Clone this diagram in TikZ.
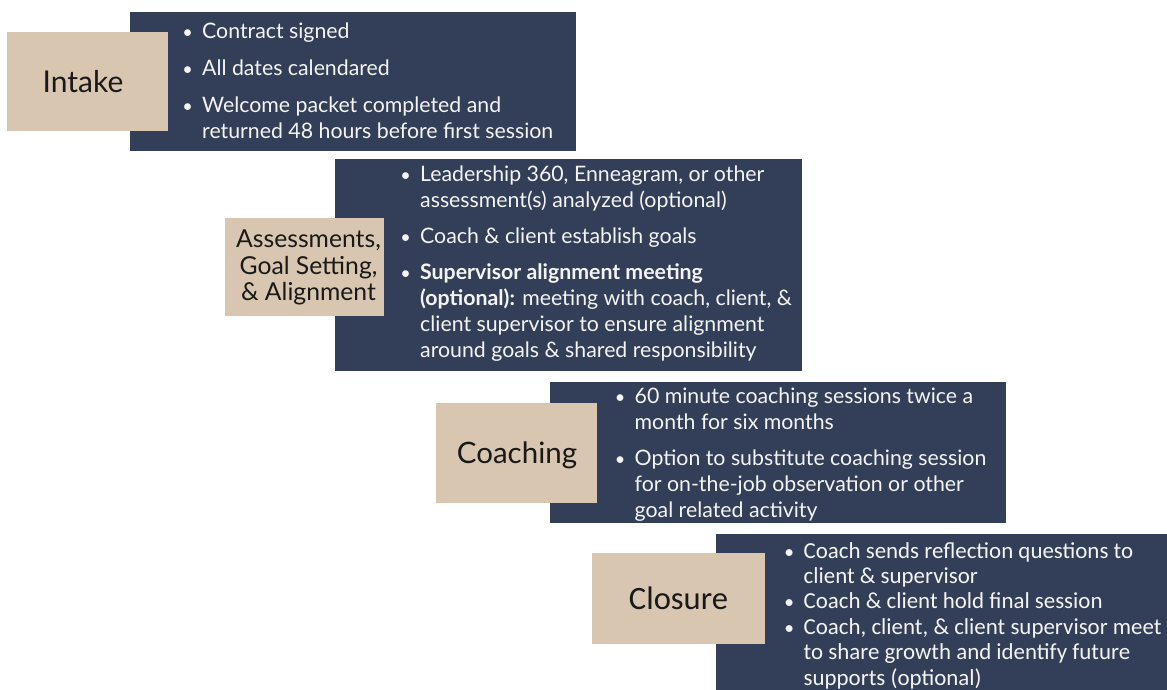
\documentclass[tikz,border=0pt]{standalone}
\usepackage{fontspec}
\setmainfont{Lato}
\newfontfamily\calibfont{Carlito}
\definecolor{navy}{HTML}{333F58}
\definecolor{sand}{HTML}{D8C6B1}
\definecolor{paper}{HTML}{F4F4F4}
\newcommand{\bul}{\makebox[22pt][l]{\makebox[15pt][c]{\scalebox{0.85}{\textbullet}}}}
\newcommand{\ind}{\hspace*{22pt}}

\begin{document}
\begin{tikzpicture}[x=1pt,y=-1pt,
    darkbox/.style={fill=navy,inner sep=0,anchor=north west},
    sandbox/.style={fill=sand,inner sep=0,anchor=north west},
    steplabel/.style={inner sep=0,anchor=base,align=center,font=\fontsize{30}{30}\selectfont,text=black!90},
    bullets/.style={inner sep=0,anchor=base west,align=left,text=paper,font=\fontsize{21.3}{26}\selectfont}]
    \useasboundingbox (0,0) rectangle (1167,690);
    % Intake
    \node[darkbox,minimum width=446pt,minimum height=139pt] (intakebg) at (130,12) {};
    \node[sandbox,minimum width=161pt,minimum height=99pt] (intakebox) at (7,32) {};
    \node[steplabel] (intake) at (83,92.7) {Intake};
    \node[bullets] (intakelist) at (180,139) {\bul Contract signed\\[11pt]
        \bul All dates calendared\\[11pt]
        \bul Welcome packet completed and\\
        \ind returned 48 hours before first session};
    % Assessments
    \node[darkbox,minimum width=467pt,minimum height=212pt] (assessbg) at (335,159) {};
    \node[sandbox,minimum width=159pt,minimum height=98pt] (assessbox) at (225,218) {};
    \node[steplabel,font=\fontsize{24.7}{26.5}\selectfont] (assess) at (308.5,300.7) {Assessments,\\ Goal Setting,\\ \& Alignment};
    \node[bullets] (assesslist) at (398,357.5) {\bul Leadership 360, Enneagram, or other\\
        \ind assessment(s) analyzed (optional)\\[10pt]
        \bul Coach \& client establish goals\\[10pt]
        \bul \textbf{Supervisor alignment meeting}\\
        \ind \textbf{(optional):} meeting with coach, client, \&\\
        \ind client supervisor to ensure alignment\\
        \ind around goals \& shared responsibility};
    % Coaching
    \node[darkbox,minimum width=456pt,minimum height=141pt] (coachbg) at (550,382) {};
    \node[sandbox,minimum width=161pt,minimum height=100.5pt] (coachbox) at (436,402.3) {};
    \node[steplabel,font=\fontsize{29.5}{30}\selectfont] (coach) at (517,463.5) {Coaching};
    \node[bullets] (coachlist) at (612.5,517) {\bul 60 minute coaching sessions twice a\\
        \ind month for six months\\[10pt]
        \bul Option to substitute coaching session\\
        \ind for on-the-job observation or other\\
        \ind goal related activity};
    % Closure
    \node[darkbox,minimum width=451pt,minimum height=156pt] (closebg) at (716,534) {};
    \node[sandbox,minimum width=173pt,minimum height=91pt] (closebox) at (592,553) {};
    \node[steplabel,font=\calibfont\fontsize{32.6}{33}\selectfont] (close) at (678.5,609) {Closure};
    \node[bullets,font=\calibfont\fontsize{22.9}{25.4}\selectfont] (closelist) at (781.5,685) {\bul Coach sends reflection questions to\\
        \ind client \& supervisor\\
        \bul Coach \& client hold final session\\
        \bul Coach, client, \& client supervisor meet\\
        \ind to share growth and identify future\\
        \ind supports (optional)};
\end{tikzpicture}
\end{document}
